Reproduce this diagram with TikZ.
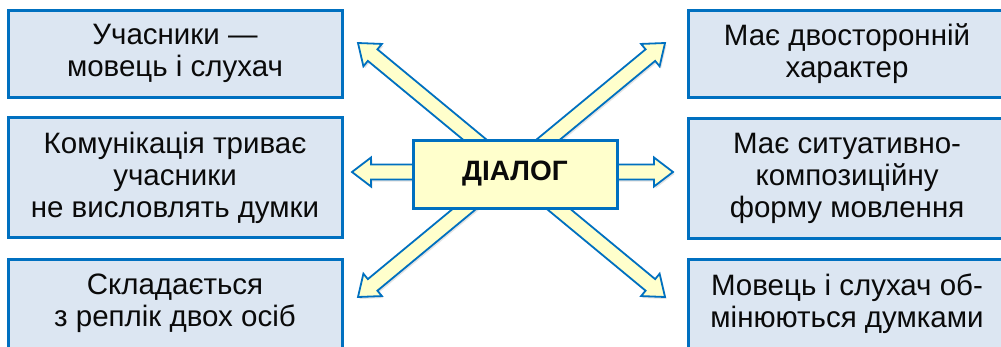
\documentclass[tikz,border=0pt]{standalone}
\usepackage{fontspec}
\setmainfont{Liberation Sans}
\usetikzlibrary{calc,shadows}
\definecolor{bborder}{HTML}{0070C0}
\definecolor{bfill}{HTML}{DCE6F2}
\definecolor{yfill}{HTML}{FFFFCC}
\definecolor{txt}{HTML}{0A0A0A}
\tikzset{
  infobox/.style n args={2}{draw=bborder, line width=3pt, fill=bfill, inner sep=0pt, outer sep=0pt,
    minimum width=#1, minimum height=#2, align=center, text=txt,
    font=\fontsize{29.5pt}{32pt}\selectfont,
    execute at begin node={\rule{0pt}{27pt}}},
  mainbox/.style={draw=bborder, line width=3pt, fill=yfill, inner sep=0pt, outer sep=0pt,
    minimum width=204pt, minimum height=68pt, text=txt,
    font=\fontsize{28pt}{32pt}\selectfont\bfseries},
  arrowshape/.style={draw=bborder, line width=1.8pt, fill=yfill, line join=miter,
    drop shadow={opacity=0.22, shadow xshift=1.5pt, shadow yshift=-2pt}}
}
\newcommand\blockarrow[2]{%
  \path ($(#2)!19pt!(#1)$) coordinate (hb);
  \draw[arrowshape] ($(#1)!7.5pt!90:(#2)$) -- ($(hb)!7.5pt!90:(#2)$) -- ($(hb)!14.5pt!90:(#2)$)
    -- (#2) -- ($(hb)!14.5pt!-90:(#2)$) -- ($(hb)!7.5pt!-90:(#2)$) -- ($(#1)!7.5pt!-90:(#2)$) -- cycle;
}
\begin{document}
\begin{tikzpicture}[x=1pt,y=-1pt]
\useasboundingbox (0,0) rectangle (1001,346);
\fill[white] (0,0) rectangle (1001,346);
% arrow origins and tips
\coordinate (c) at (511.5,170);
\coordinate (ch) at (515,172);
\coordinate (tl) at (358,43);
\coordinate (tr) at (665,43);
\coordinate (bl) at (358,297);
\coordinate (br) at (665,297);
\coordinate (ml) at (352,172);
\coordinate (mr) at (673,172);
\blockarrow{c}{tl}
\blockarrow{c}{tr}
\blockarrow{c}{bl}
\blockarrow{c}{br}
\blockarrow{ch}{ml}
\blockarrow{ch}{mr}
\node[mainbox] (dlg) at (515,174) {ДІАЛОГ};
% left boxes
\node[infobox={334pt}{87pt}] (l1) at (175,53.5) {Учасники —\\мовець і слухач};
\node[infobox={334pt}{120pt}] (l2) at (175,177.5) {Комунікація триває\\учасники\\не висловлять думки};
\node[infobox={334pt}{89pt}] (l3) at (175,303.5) {Складається\\з реплік двох осіб};
% right boxes
\node[infobox={318pt}{87pt}] (r1) at (847,53.5) {Має двосторонній\\характер};
\node[infobox={318pt}{120pt}] (r2) at (847,178) {Має ситуативно-\\композиційну\\форму мовлення};
\node[infobox={318pt}{89pt}] (r3) at (847,303.5) {Мовець і слухач об-\\мінюються думками};
\end{tikzpicture}
\end{document}
